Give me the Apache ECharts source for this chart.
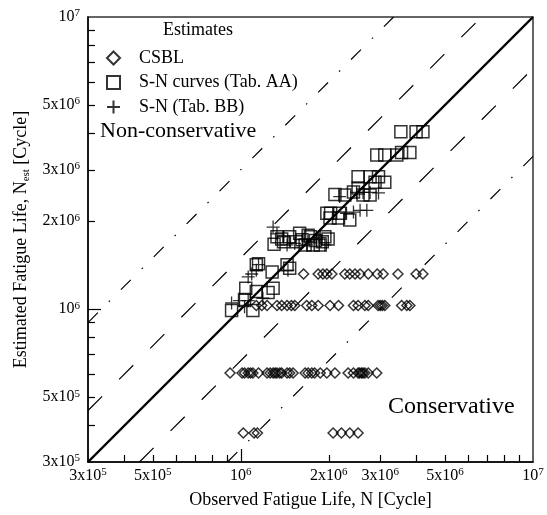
<!DOCTYPE html>
<html>
<head>
<meta charset="utf-8">
<script src="https://cdn.jsdelivr.net/npm/echarts@6/dist/echarts.min.js"></script>
<style>
html,body{margin:0;padding:0;background:#fff}
#main{width:547px;height:515px}
</style>
</head>
<body>
<div id="main"></div>
<script>
// axis range and ticks (cycles)
const axisMin = 3e5;
const axisMax = 1e7;
const labelTicks = [3e5, 5e5, 1e6, 2e6, 3e6, 5e6, 1e7];
const minorTicks = [4e5, 5e5, 6e5, 7e5, 8e5, 9e5, 2e6, 3e6, 4e6, 5e6, 6e6, 7e6, 8e6, 9e6];
const longTicks = [1e6];

// reference lines N_est = r * N
const solidRatios = [1];
const dashRatios = [1.5, 1 / 1.5];
const dashDotRatios = [3, 1 / 3];

// CSBL estimates, one row per estimated life
const csblRowEst = [1.32e6, 1.03e6, 6.05e5, 3.77e5];
const csblRowObs = [
  [1.64e6, 1.84e6, 1.91e6, 1.97e6, 2.05e6, 2.27e6, 2.36e6, 2.46e6, 2.56e6, 2.73e6, 2.93e6, 3.07e6, 3.45e6, 3.98e6, 4.20e6],
  [1.13e6, 1.18e6, 1.23e6, 1.33e6, 1.38e6, 1.44e6, 1.49e6, 1.53e6, 1.68e6, 1.75e6, 1.84e6, 2.02e6, 2.16e6, 2.43e6, 2.52e6,
   2.66e6, 2.73e6, 2.95e6, 3.0e6, 3.05e6, 3.11e6, 3.55e6, 3.70e6, 3.79e6],
  [9.19e5, 1.01e6, 1.03e6, 1.06e6, 1.08e6, 1.10e6, 1.15e6, 1.23e6, 1.26e6, 1.29e6, 1.31e6, 1.33e6, 1.36e6, 1.38e6, 1.44e6,
   1.47e6, 1.51e6, 1.66e6, 1.70e6, 1.75e6, 1.79e6, 1.87e6, 1.97e6, 2.10e6, 2.33e6, 2.43e6, 2.52e6, 2.55e6, 2.59e6, 2.62e6,
   2.66e6, 2.73e6, 2.92e6],
  [1.02e6, 1.11e6, 1.14e6, 2.07e6, 2.21e6, 2.36e6, 2.52e6]
];

// S-N curves (Tab. AA): [observed, estimated]
const snAA = [
  [9.3e5, 9.9e5], [1.10e6, 9.9e5], [1.03e6, 1.08e6], [1.04e6, 1.18e6], [1.13e6, 1.15e6], [1.24e6, 1.14e6],
  [1.29e6, 1.18e6], [1.13e6, 1.42e6], [1.15e6, 1.43e6], [1.28e6, 1.34e6], [1.44e6, 1.42e6], [1.47e6, 1.38e6],
  [1.30e6, 1.67e6], [1.33e6, 1.77e6], [1.38e6, 1.74e6], [1.40e6, 1.70e6], [1.47e6, 1.77e6], [1.55e6, 1.70e6],
  [1.59e6, 1.82e6], [1.62e6, 1.73e6], [1.70e6, 1.79e6], [1.73e6, 1.77e6], [1.66e6, 1.66e6], [1.77e6, 1.66e6],
  [1.80e6, 1.72e6], [1.87e6, 1.66e6], [1.90e6, 1.70e6], [1.94e6, 1.77e6], [1.99e6, 1.74e6],
  [1.97e6, 2.13e6], [2.03e6, 2.13e6], [2.18e6, 2.13e6], [2.02e6, 2.05e6], [2.16e6, 2.05e6], [2.36e6, 2.02e6],
  [2.10e6, 2.47e6], [2.27e6, 2.46e6], [2.43e6, 2.52e6], [2.52e6, 2.60e6], [2.62e6, 2.46e6], [2.77e6, 2.46e6],
  [2.52e6, 2.84e6], [2.77e6, 2.84e6], [2.96e6, 2.84e6], [2.88e6, 2.72e6], [3.11e6, 2.72e6],
  [2.92e6, 3.37e6], [3.11e6, 3.37e6], [3.42e6, 3.37e6], [3.55e6, 3.44e6], [3.79e6, 3.44e6],
  [3.53e6, 4.05e6], [3.98e6, 4.05e6], [4.20e6, 4.05e6]
];

// S-N (Tab. BB): [observed, estimated]
const snBB = [
  [9.3e5, 1.05e6], [9.9e5, 1.07e6], [1.03e6, 1.02e6], [1.06e6, 1.07e6], [1.19e6, 1.09e6], [1.06e6, 1.29e6],
  [1.09e6, 1.32e6], [1.13e6, 1.36e6], [1.15e6, 1.42e6], [1.45e6, 1.36e6],
  [1.29e6, 1.91e6], [1.33e6, 1.81e6], [1.40e6, 1.77e6], [1.44e6, 1.66e6], [1.53e6, 1.68e6], [1.63e6, 1.73e6],
  [1.68e6, 1.66e6], [1.82e6, 1.73e6], [1.87e6, 1.76e6], [1.94e6, 1.66e6],
  [2.18e6, 2.43e6], [2.30e6, 2.13e6], [2.43e6, 2.15e6], [2.56e6, 2.18e6], [2.70e6, 2.18e6],
  [2.49e6, 2.51e6], [2.62e6, 2.51e6], [2.77e6, 2.51e6], [2.96e6, 2.50e6]
];

const font = 'Liberation Serif';
const csbl = [];
csblRowObs.forEach((row, i) => row.forEach(n => csbl.push([n, csblRowEst[i]])));

function sci(v) {
  const e = Math.floor(Math.log10(v) + 1e-9);
  const m = Math.round(v / Math.pow(10, e));
  return (m === 1 ? '' : m + 'x') + '10{sup|' + e + '}';
}

function ratioLine(r) {
  // ends of N_est = r*N on the plot frame
  const start = r >= 1 ? [axisMin, axisMin * r] : [axisMin / r, axisMin];
  const end = r >= 1 ? [axisMax / r, axisMax] : [axisMax, axisMax * r];
  return [start, end];
}

const labelRich = {
  sup: { fontFamily: font, fontSize: 11, lineHeight: 11, verticalAlign: 'top', color: '#000' }
};

function mainAxis(pos, name, gap) {
  return {
    type: 'log', logBase: 10, min: axisMin, max: axisMax, position: pos,
    name: name, nameLocation: 'middle', nameGap: gap,
    nameTextStyle: {
      fontFamily: font, fontSize: 18, color: '#000', lineHeight: 20,
      rich: { sub: { fontFamily: font, fontSize: 11, lineHeight: 12, verticalAlign: 'bottom', color: '#000' } }
    },
    axisLine: { lineStyle: { color: '#000', width: 1.5 } },
    axisTick: { inside: true, length: 7, customValues: minorTicks, lineStyle: { color: '#000', width: 1.2 } },
    axisLabel: {
      customValues: labelTicks, formatter: sci, margin: pos === 'left' ? 8 : 5,
      fontFamily: font, fontSize: 16, lineHeight: 18, color: '#000', rich: labelRich
    },
    splitLine: { show: false }, minorTick: { show: false }
  };
}

function longTickAxis(pos) {
  return {
    type: 'log', logBase: 10, min: axisMin, max: axisMax, position: pos,
    axisLine: { show: false },
    axisTick: { inside: true, length: 13, customValues: longTicks, lineStyle: { color: '#000', width: 1.2 } },
    axisLabel: { show: false }, splitLine: { show: false }
  };
}

const lineSeries = [];
solidRatios.forEach(r => lineSeries.push({ type: 'line', data: ratioLine(r), symbol: 'none', silent: true,
  lineStyle: { color: '#000', width: 2.4 }, z: 1 }));
dashRatios.forEach(r => lineSeries.push({ type: 'line', data: ratioLine(r), symbol: 'none', silent: true,
  lineStyle: { color: '#000', width: 1.2, type: [20, 24] }, z: 1 }));
dashDotRatios.forEach(r => lineSeries.push({ type: 'line', data: ratioLine(r), symbol: 'none', silent: true,
  lineStyle: { color: '#000', width: 1.2, type: [14, 15.5, 1.5, 15.5] }, z: 1 }));

const hollow = { color: 'rgba(0,0,0,0)', borderColor: '#000', borderWidth: 1.5 };

const chart = echarts.init(document.getElementById('main'));
chart.setOption({
  animation: false,
  backgroundColor: '#fff',
  grid: { left: 88, right: 14, top: 17, bottom: 53, show: true, borderColor: '#333', borderWidth: 1.5, backgroundColor: 'transparent' },
  xAxis: [mainAxis('bottom', 'Observed Fatigue Life, N [Cycle]', 26), longTickAxis('bottom')],
  yAxis: [mainAxis('left', 'Estimated Fatigue Life, N{sub|est} [Cycle]', 55), longTickAxis('left')],
  legend: {
    orient: 'vertical', left: 101, top: 43, itemWidth: 13, itemHeight: 13, itemGap: 4.5,
    textStyle: { fontFamily: font, fontSize: 18, lineHeight: 20, color: '#000', padding: [0, 0, 0, 14] },
    data: ['CSBL', 'S-N curves (Tab. AA)', 'S-N (Tab. BB)']
  },
  graphic: [
    { type: 'text', left: 163, top: 21, style: { text: 'Estimates', font: '18px "Liberation Serif"', fill: '#000' } },
    { type: 'text', left: 100, top: 120, style: { text: 'Non-conservative', font: '22px "Liberation Serif"', fill: '#000' } },
    { type: 'text', left: 388, top: 395, style: { text: 'Conservative', font: '24px "Liberation Serif"', fill: '#000' } }
  ],
  series: lineSeries.concat([
    { name: 'CSBL', type: 'scatter', data: csbl, symbol: 'diamond', symbolSize: 10, itemStyle: hollow, z: 3 },
    { name: 'S-N curves (Tab. AA)', type: 'scatter', data: snAA, symbol: 'rect', symbolSize: 12, itemStyle: hollow, z: 3 },
    { name: 'S-N (Tab. BB)', type: 'scatter', data: snBB, symbol: 'path://M1,0L1,2M0,1L2,1', symbolSize: 13,
      itemStyle: { color: 'rgba(0,0,0,0)', borderColor: '#000', borderWidth: 1.3 }, z: 3 }
  ])
});
</script>
</body>
</html>
